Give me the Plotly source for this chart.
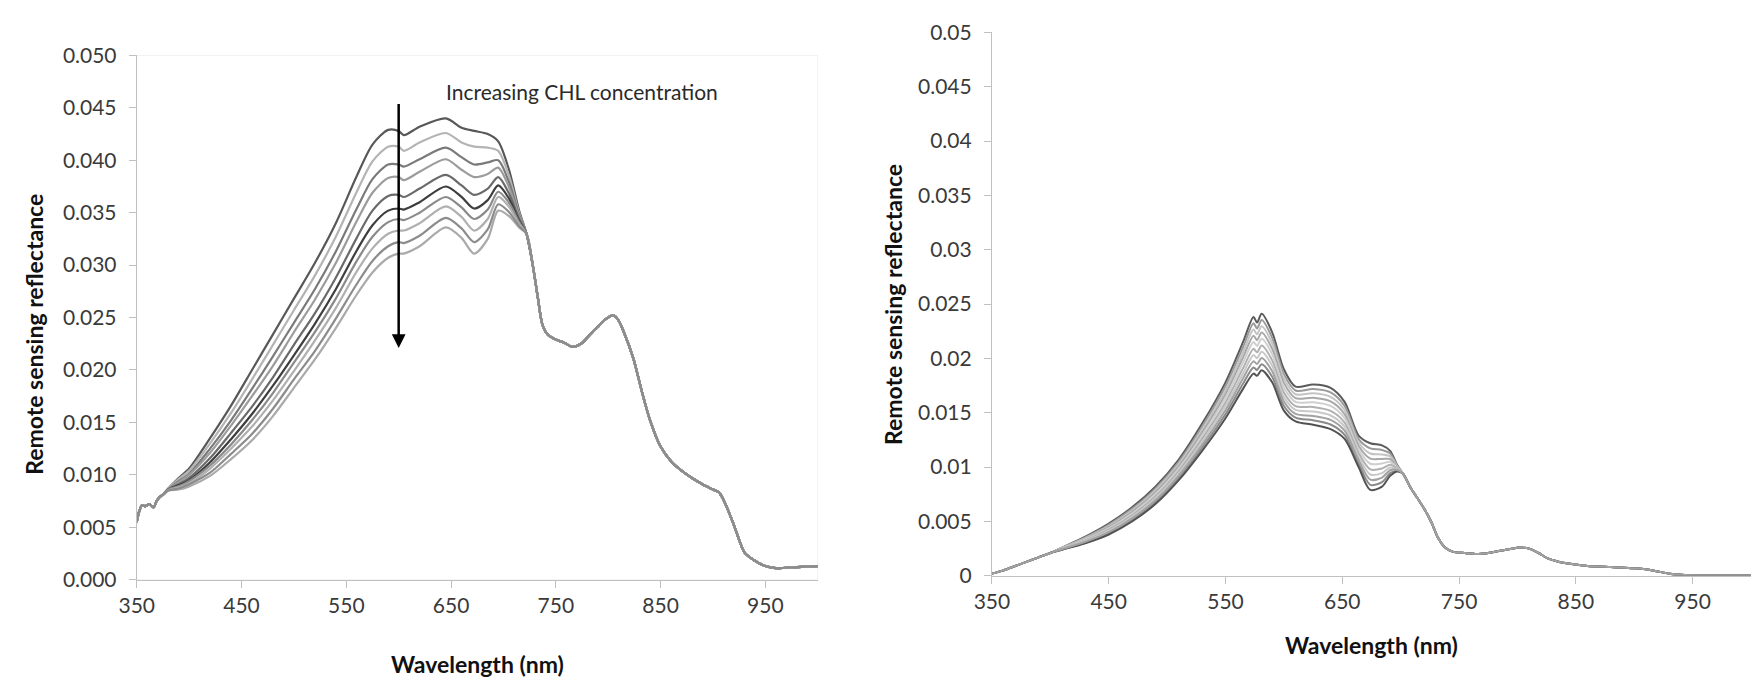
import plotly.graph_objects as go

# ---------------- Left panel data (wavelength nm, Rrs) ----------------
HEAD_L_NM = [350, 352, 355, 358, 362, 366, 369, 372, 375]
HEAD_L = [0.0055, 0.0064, 0.0071, 0.0070, 0.0072, 0.0069, 0.0075, 0.0079, 0.0081]

GRID_L_NM = [380, 390, 400, 420, 440, 460, 480, 500, 520, 540, 560, 575, 590,
             600, 605, 620, 645, 660, 672, 685, 695, 705, 715]

L0 = [0.0087, 0.0097, 0.0106, 0.0135, 0.0166, 0.0200, 0.0234, 0.0268, 0.0302, 0.0340, 0.0385, 0.0415, 0.0429, 0.0428, 0.0424, 0.0432, 0.0440, 0.0431, 0.0428, 0.0425, 0.0418, 0.0392, 0.0352]
L1 = [0.0087, 0.0096, 0.0104, 0.0130, 0.0159, 0.0191, 0.0224, 0.0257, 0.0290, 0.0327, 0.0370, 0.0399, 0.0413, 0.0413, 0.0409, 0.0417, 0.0426, 0.0417, 0.0413, 0.0412, 0.0409, 0.0386, 0.0350]
L2 = [0.0086, 0.0094, 0.0101, 0.0125, 0.0152, 0.0182, 0.0213, 0.0245, 0.0277, 0.0313, 0.0354, 0.0382, 0.0396, 0.0396, 0.0394, 0.0401, 0.0412, 0.0403, 0.0396, 0.0398, 0.0400, 0.0380, 0.0348]
L3 = [0.0086, 0.0093, 0.0100, 0.0121, 0.0147, 0.0175, 0.0204, 0.0236, 0.0267, 0.0302, 0.0342, 0.0369, 0.0383, 0.0384, 0.0381, 0.0389, 0.0401, 0.0391, 0.0384, 0.0387, 0.0393, 0.0375, 0.0346]
L4 = [0.0086, 0.0091, 0.0097, 0.0116, 0.0140, 0.0165, 0.0193, 0.0224, 0.0254, 0.0288, 0.0326, 0.0352, 0.0366, 0.0367, 0.0365, 0.0373, 0.0386, 0.0376, 0.0367, 0.0373, 0.0384, 0.0369, 0.0344]
L5 = [0.0086, 0.0090, 0.0095, 0.0112, 0.0134, 0.0158, 0.0185, 0.0214, 0.0244, 0.0277, 0.0314, 0.0338, 0.0352, 0.0354, 0.0353, 0.0360, 0.0375, 0.0365, 0.0354, 0.0362, 0.0376, 0.0364, 0.0342]
L6 = [0.0086, 0.0089, 0.0094, 0.0109, 0.0129, 0.0152, 0.0178, 0.0207, 0.0236, 0.0268, 0.0304, 0.0327, 0.0341, 0.0344, 0.0343, 0.0350, 0.0365, 0.0355, 0.0344, 0.0353, 0.0370, 0.0360, 0.0341]
L7 = [0.0085, 0.0088, 0.0092, 0.0106, 0.0125, 0.0146, 0.0171, 0.0199, 0.0228, 0.0259, 0.0294, 0.0316, 0.0330, 0.0333, 0.0333, 0.0340, 0.0356, 0.0346, 0.0333, 0.0344, 0.0365, 0.0356, 0.0339]
L8 = [0.0085, 0.0087, 0.0091, 0.0102, 0.0120, 0.0139, 0.0163, 0.0191, 0.0218, 0.0249, 0.0282, 0.0304, 0.0318, 0.0322, 0.0321, 0.0328, 0.0345, 0.0335, 0.0322, 0.0334, 0.0358, 0.0351, 0.0337]
L9 = [0.0085, 0.0086, 0.0089, 0.0099, 0.0115, 0.0133, 0.0156, 0.0183, 0.0210, 0.0240, 0.0272, 0.0293, 0.0307, 0.0311, 0.0311, 0.0318, 0.0336, 0.0326, 0.0311, 0.0325, 0.0352, 0.0347, 0.0336]

TAIL_L_NM = [722, 728, 733, 737, 742, 750, 758, 766, 774, 782, 790, 797, 805, 810, 815,
             824, 832, 840, 850, 860, 870, 880, 890, 900, 906, 912, 920, 925, 930, 940,
             950, 960, 980, 1000]
TAIL_L = [0.0330, 0.0300, 0.0268, 0.0244, 0.0234, 0.0229, 0.0226, 0.0222, 0.0225, 0.0233,
          0.0241, 0.0248, 0.0252, 0.0247, 0.0236, 0.0211, 0.0180, 0.0152, 0.0127, 0.0113,
          0.0104, 0.0097, 0.0091, 0.0086, 0.0083, 0.0072, 0.0052, 0.0038, 0.0026, 0.0018,
          0.0013, 0.0011, 0.0012, 0.0013]

LEFT_CURVES = [L0, L1, L2, L3, L4, L5, L6, L7, L9, L8]
LEFT_COLORS = ["#585858", "#b4b4b4", "#7a7a7a", "#9c9c9c", "#6a6a6a",
               "#3e3e3e", "#8a8a8a", "#b0b0b0", "#aaaaaa", "#8c8c8c"]

# ---------------- Right panel data ----------------
HEAD_R_NM = [350, 360, 370, 380, 390, 400]
HEAD_R = [0.0002, 0.0005, 0.0009, 0.0013, 0.0017, 0.0021]

GRID_R_NM = [410, 430, 450, 470, 490, 510, 530, 550, 565, 574, 577, 581, 590, 600,
             610, 625, 640, 652, 664, 674, 684, 691, 697]

R0 = [0.0026, 0.0036, 0.0048, 0.0063, 0.0082, 0.0107, 0.0140, 0.0178, 0.0215, 0.0238, 0.0233, 0.0241, 0.0224, 0.0190, 0.0174, 0.0176, 0.0173, 0.0160, 0.0129, 0.0122, 0.0120, 0.0115, 0.0102]
R1 = [0.00258, 0.00353, 0.00469, 0.00616, 0.00802, 0.01049, 0.01373, 0.01744, 0.02103, 0.02323, 0.02276, 0.02353, 0.02189, 0.01858, 0.01705, 0.01719, 0.01688, 0.01563, 0.01258, 0.01173, 0.01158, 0.01125, 0.01013]
R2 = [0.00256, 0.00347, 0.00458, 0.00601, 0.00785, 0.01028, 0.01345, 0.01707, 0.02055, 0.02266, 0.02222, 0.02296, 0.02139, 0.01816, 0.01670, 0.01679, 0.01646, 0.01525, 0.01226, 0.01125, 0.01116, 0.01099, 0.01007]
R3 = [0.00253, 0.00340, 0.00447, 0.00587, 0.00767, 0.01007, 0.01318, 0.01671, 0.02008, 0.02208, 0.02168, 0.02238, 0.02088, 0.01775, 0.01634, 0.01638, 0.01605, 0.01488, 0.01194, 0.01078, 0.01075, 0.01074, 0.01000]
R4 = [0.00251, 0.00334, 0.00436, 0.00573, 0.00750, 0.00986, 0.01290, 0.01635, 0.01961, 0.02151, 0.02114, 0.02181, 0.02038, 0.01733, 0.01599, 0.01597, 0.01563, 0.01450, 0.01162, 0.01031, 0.01033, 0.01049, 0.00994]
R5 = [0.00249, 0.00326, 0.00424, 0.00557, 0.00730, 0.00964, 0.01260, 0.01595, 0.01909, 0.02089, 0.02056, 0.02119, 0.01982, 0.01687, 0.01561, 0.01553, 0.01517, 0.01410, 0.01128, 0.00979, 0.00987, 0.01021, 0.00986]
R6 = [0.00247, 0.00320, 0.00413, 0.00543, 0.00713, 0.00943, 0.01233, 0.01559, 0.01862, 0.02032, 0.02002, 0.02062, 0.01932, 0.01645, 0.01526, 0.01512, 0.01475, 0.01372, 0.01096, 0.00932, 0.00945, 0.00996, 0.00980]
R7 = [0.00244, 0.00313, 0.00402, 0.00529, 0.00695, 0.00922, 0.01205, 0.01523, 0.01815, 0.01974, 0.01948, 0.02004, 0.01881, 0.01604, 0.01490, 0.01471, 0.01434, 0.01335, 0.01064, 0.00885, 0.00904, 0.00971, 0.00973]
R8 = [0.00242, 0.00307, 0.00391, 0.00514, 0.00678, 0.00901, 0.01178, 0.01486, 0.01767, 0.01917, 0.01894, 0.01947, 0.01831, 0.01562, 0.01455, 0.01431, 0.01392, 0.01297, 0.01032, 0.00837, 0.00862, 0.00945, 0.00967]
R9 = [0.0024, 0.0030, 0.0038, 0.0050, 0.0066, 0.0088, 0.0115, 0.0145, 0.0172, 0.0186, 0.0184, 0.0189, 0.0178, 0.0152, 0.0142, 0.0139, 0.0135, 0.0126, 0.0100, 0.0079, 0.0082, 0.0092, 0.0096]

TAIL_R_NM = [702, 708, 714, 720, 726, 732, 738, 745, 755, 765, 775, 785, 795, 802, 810,
             818, 826, 835, 845, 860, 880, 900, 910, 920, 930, 940, 960, 1000]
TAIL_R = [0.0094, 0.0082, 0.0072, 0.0062, 0.0050, 0.0035, 0.0026, 0.0022, 0.0021, 0.0020,
          0.0021, 0.0023, 0.0025, 0.0026, 0.0025, 0.0021, 0.0016, 0.0013, 0.0011, 0.0009,
          0.0008, 0.0007, 0.0006, 0.0004, 0.0002, 0.0001, 0.00005, 0.00005]

RIGHT_CURVES = [R0, R1, R2, R3, R4, R5, R6, R8, R9, R7]
RIGHT_COLORS = ["#5a5a5a", "#9a9a9a", "#c4c4c4", "#a8a8a8", "#cfcfcf",
                "#b0b0b0", "#c8c8c8", "#8a8a8a", "#525252", "#a2a2a2"]

X_TICKS = [350, 450, 550, 650, 750, 850, 950]
X_TICK_TEXT = ["350", "450", "550", "650", "750", "850", "950"]
Y_TICKS = [0, 0.005, 0.01, 0.015, 0.02, 0.025, 0.03, 0.035, 0.04, 0.045, 0.05]
Y_TICK_TEXT_L = ["0.000", "0.005", "0.010", "0.015", "0.020", "0.025", "0.030",
                 "0.035", "0.040", "0.045", "0.050"]
Y_TICK_TEXT_R = ["0", "0.005", "0.01", "0.015", "0.02", "0.025", "0.03",
                 "0.035", "0.04", "0.045", "0.05"]

W, H = 1754, 688
FONT = "Lato"

fig = go.Figure()

for curve, col in zip(LEFT_CURVES, LEFT_COLORS):
    fig.add_trace(go.Scatter(
        x=HEAD_L_NM + GRID_L_NM + TAIL_L_NM, y=HEAD_L + curve + TAIL_L,
        mode="lines", line=dict(color=col, width=2.2, shape="spline", smoothing=0.8),
        xaxis="x", yaxis="y", showlegend=False, hoverinfo="skip"))

for curve, col in zip(RIGHT_CURVES, RIGHT_COLORS):
    fig.add_trace(go.Scatter(
        x=HEAD_R_NM + GRID_R_NM + TAIL_R_NM, y=HEAD_R + curve + TAIL_R,
        mode="lines", line=dict(color=col, width=2.0, shape="spline", smoothing=0.8),
        xaxis="x2", yaxis="y2", showlegend=False, hoverinfo="skip"))

axis_common = dict(showline=True, linecolor="#c0c0c0", linewidth=1, ticks="outside",
                   ticklen=7, tickcolor="#c0c0c0", showgrid=False, zeroline=False,
                   tickfont=dict(family=FONT, size=21, color="#3a3a3a"))

fig.update_layout(
    width=W, height=H, margin=dict(l=0, r=0, t=0, b=0),
    paper_bgcolor="white", plot_bgcolor="white",
    xaxis=dict(domain=[120 / W, 808 / W], range=[350, 1000], tickvals=X_TICKS,
               ticktext=X_TICK_TEXT, anchor="y", **axis_common),
    yaxis=dict(domain=[1 - 587 / H, 1 - 43 / H], range=[0, 0.05], tickvals=Y_TICKS,
               ticktext=Y_TICK_TEXT_L, anchor="x", ticklabelstandoff=8, **axis_common),
    xaxis2=dict(domain=[984 / W, 1751 / W], range=[350, 1000], tickvals=X_TICKS,
                ticktext=X_TICK_TEXT, anchor="y2", **axis_common),
    yaxis2=dict(domain=[1 - 583 / H, 1 - 19 / H], range=[0, 0.05], tickvals=Y_TICKS,
                ticktext=Y_TICK_TEXT_R, anchor="x2", ticklabelstandoff=8, **axis_common),
)

title_font = dict(family=FONT, size=23, color="#111111")
annos = [
    dict(text="<b>Wavelength (nm)</b>", x=464 / W, y=1 - 675 / H, xref="paper", yref="paper",
         showarrow=False, font=title_font, xanchor="center", yanchor="middle"),
    dict(text="<b>Wavelength (nm)</b>", x=1368 / W, y=1 - 655 / H, xref="paper", yref="paper",
         showarrow=False, font=title_font, xanchor="center", yanchor="middle"),
    dict(text="<b>Remote sensing reflectance</b>", x=16 / W, y=1 - 332 / H, xref="paper",
         yref="paper", showarrow=False, font=title_font, textangle=-90,
         xanchor="center", yanchor="middle"),
    dict(text="<b>Remote sensing reflectance</b>", x=884 / W, y=1 - 301 / H, xref="paper",
         yref="paper", showarrow=False, font=title_font, textangle=-90,
         xanchor="center", yanchor="middle"),
    dict(text="Increasing CHL concentration", x=430 / W, y=1 - 80 / H, xref="paper",
         yref="paper", showarrow=False, font=dict(family=FONT, size=21, color="#2a2a2a"),
         xanchor="left", yanchor="middle"),
    dict(text="", x=600, y=0.0221, ax=600, ay=0.0455, xref="x", yref="y", axref="x",
         ayref="y", showarrow=True, arrowhead=2, arrowsize=1.1, arrowwidth=2.5,
         arrowcolor="#000000"),
]
fig.update_layout(annotations=annos)

fig.update_layout(shapes=[
    dict(type="rect", xref="paper", yref="paper", x0=120 / W, x1=808 / W,
         y0=1 - 587 / H, y1=1 - 43 / H, line=dict(color="#f2f2f2", width=1), layer="below"),
])

fig.write_html("out.html", config={"displayModeBar": False})
